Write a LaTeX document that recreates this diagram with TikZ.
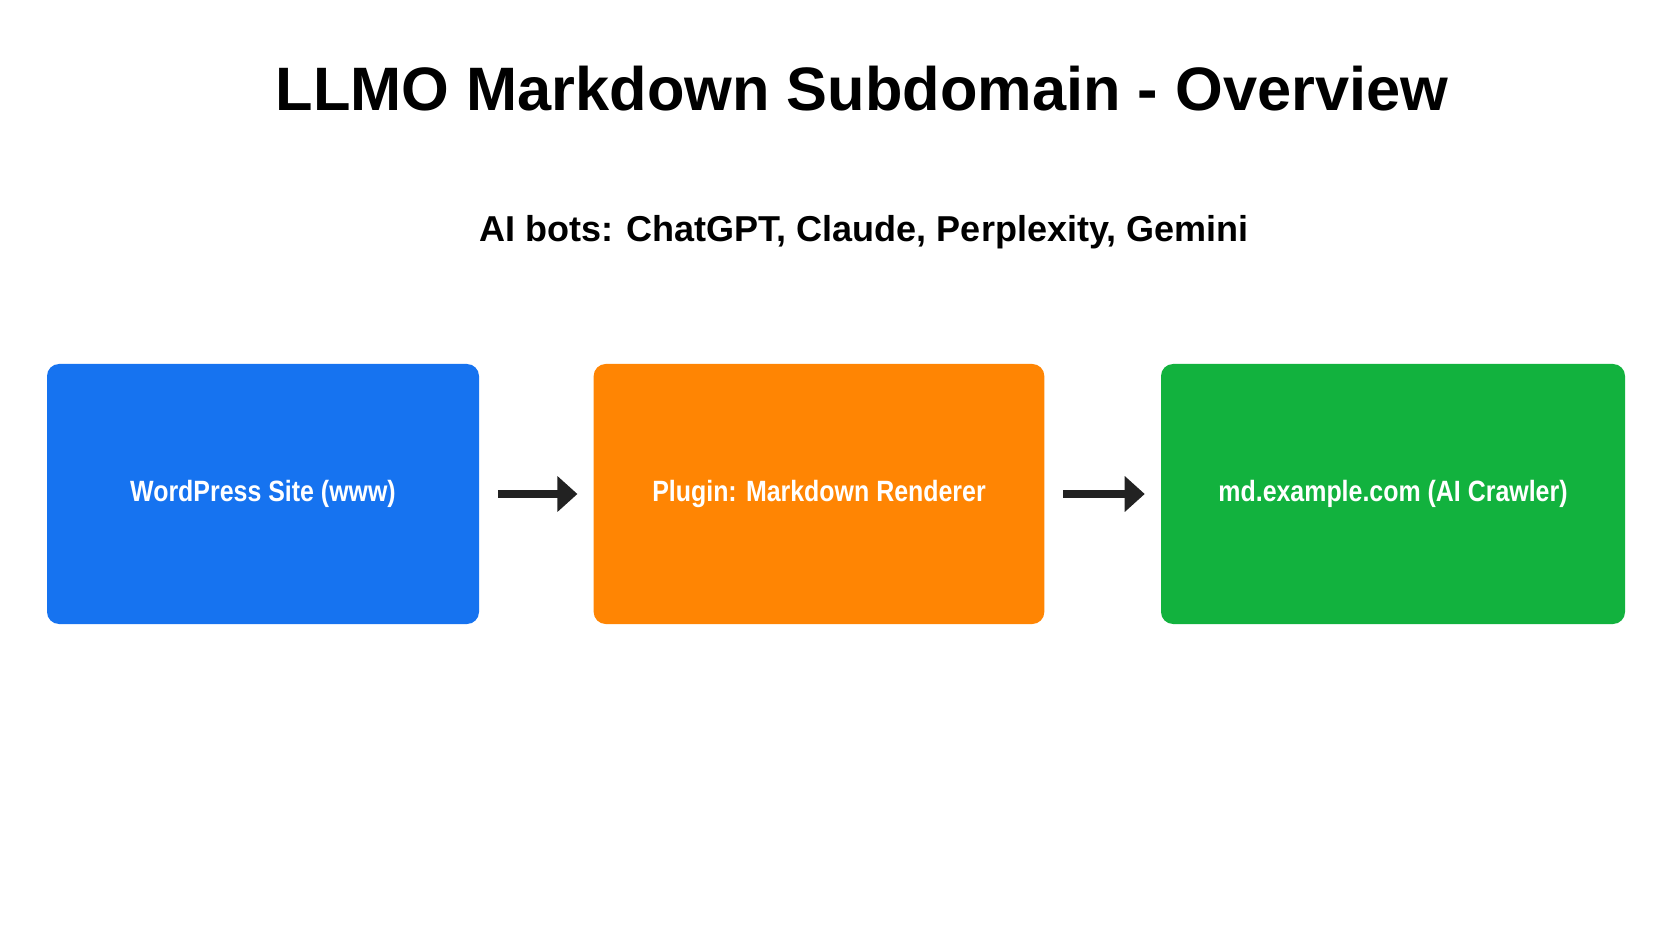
\documentclass[tikz,border=0pt]{standalone}
\usepackage{fontspec}
\setmainfont{Liberation Sans}
\usetikzlibrary{positioning,arrows.meta}
\definecolor{boxblue}{HTML}{1673F0}
\definecolor{boxorange}{HTML}{FF8503}
\definecolor{boxgreen}{HTML}{12B23E}
\definecolor{arrowgray}{HTML}{222222}
\tikzset{
  stage/.style={ rounded corners=9pt, minimum width=324pt, minimum height=195pt, text=white,
    font=\fontsize{22}{26}\selectfont\bfseries, inner sep=0pt },
  flow/.style={ draw=arrowgray, line width=6pt, -{Triangle[length=15pt,width=26pt]} }
}
\begin{document}
\begin{tikzpicture}[x=0.75pt, y=-0.75pt]
  \useasboundingbox (0,0) rectangle (1672,941);
  \node[font=\fontsize{46}{52}\selectfont\bfseries] (title) at (862,89) {LLMO Markdown Subdomain - Overview};
  \node[font=\fontsize{27}{32}\selectfont\bfseries] (bots) at (864,232) {AI bots: ChatGPT, Claude, Perplexity, Gemini};

  \node[stage, fill=boxblue] (wp) at (263,494) {\scalebox{0.85}[1]{WordPress Site (www)}};
  \node[stage, fill=boxorange, minimum width=338pt] (plugin) at (819,494) {\scalebox{0.85}[1]{Plugin: Markdown Renderer}};
  \node[stage, fill=boxgreen, minimum width=348pt] (md) at (1393,494) {\scalebox{0.85}[1]{md.example.com (AI Crawler)}};

  \draw[flow] ([xshift=14pt]wp.east) -- ([xshift=-12pt]plugin.west);
  \draw[flow] ([xshift=14pt]plugin.east) -- ([xshift=-12pt]md.west);
\end{tikzpicture}
\end{document}
